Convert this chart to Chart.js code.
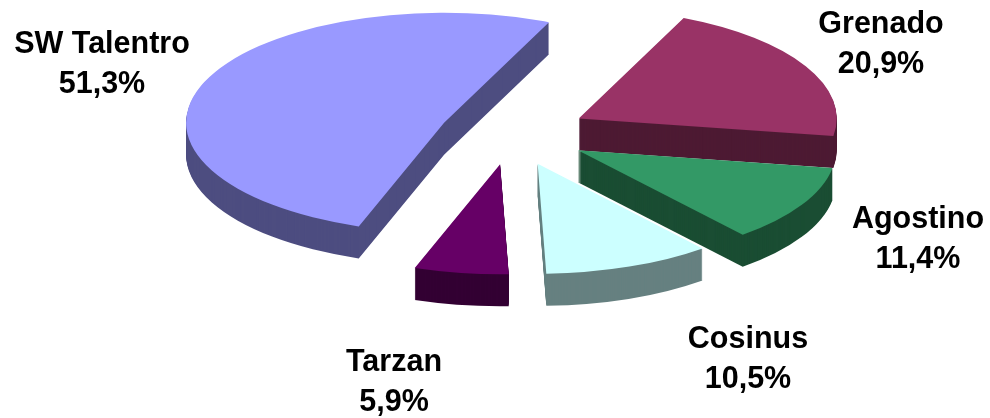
<!DOCTYPE html>
<html>
<head>
<meta charset="utf-8">
<style>
html, body { margin: 0; padding: 0; background: #fff; }
#wrap { width: 990px; height: 418px; }
</style>
<script src="https://cdn.jsdelivr.net/npm/chart.js@4"></script>
</head>
<body>
<div id="wrap"><canvas id="chart" width="990" height="418"></canvas></div>
<script>
const categories = ['Grenado', 'Agostino', 'Cosinus', 'Tarzan', 'SW Talentro'];
const shares = [20.9, 11.4, 10.5, 5.9, 51.3];
const shareLabels = ['20,9%', '11,4%', '10,5%', '5,9%', '51,3%'];

const topColors = ['#993366', '#339966', '#ccffff', '#660066', '#9999ff'];
const wallColors = ['#4d1a33', '#1a4d33', '#668080', '#330033', '#4d4d80'];
const drawOrder = [4, 0, 1, 3, 2];

// pie geometry, squashed to fake the 3D tilt
const centerX = 511, centerY = 134, tilt = 0.426, depth = 32, radius = 258;
const explode = [77, 77, 75, 72, 72];
const labelSpots = [[881, 33], [918, 228], [748, 348], [394, 371], [102, 53]];

const pie3d = {
    id: 'pie3d',
    beforeDatasetsDraw(chart) {
        const ctx = chart.ctx;
        const arcs = chart.getDatasetMeta(0).data;

        drawOrder.forEach(i => {
            const arc = arcs[i];
            const half = (arc.startAngle + arc.endAngle) / 2;
            const dx = Math.cos(half) * explode[i];
            const dy = Math.sin(half) * explode[i];

            // side walls, the wedge stacked downwards
            ctx.save();
            ctx.fillStyle = wallColors[i];
            for (let d = depth; d >= 1; d--) {
                ctx.save();
                ctx.translate(centerX, centerY + d);
                ctx.scale(1, tilt);
                ctx.beginPath();
                ctx.moveTo(dx, dy);
                ctx.arc(dx, dy, arc.outerRadius, arc.startAngle, arc.endAngle);
                ctx.closePath();
                ctx.fill();
                ctx.restore();
            }
            ctx.restore();

            // top face through the library's own arc
            ctx.save();
            ctx.translate(centerX, centerY);
            ctx.scale(1, tilt);
            ctx.translate(dx - arc.x, dy - arc.y);
            arc.draw(ctx);
            ctx.restore();
        });
        return false;
    },
    afterDraw(chart) {
        const ctx = chart.ctx;
        ctx.save();
        ctx.fillStyle = '#000';
        ctx.textAlign = 'center';
        ctx.font = 'bold 30.5px "Liberation Sans", Arial, sans-serif';
        categories.forEach((name, i) => {
            ctx.fillText(name, labelSpots[i][0], labelSpots[i][1]);
            ctx.fillText(shareLabels[i], labelSpots[i][0], labelSpots[i][1] + 40);
        });
        ctx.restore();
    }
};

new Chart(document.getElementById('chart'), {
    type: 'pie',
    data: {
        labels: categories,
        datasets: [{
            data: shares,
            backgroundColor: topColors,
            borderWidth: 0
        }]
    },
    options: {
        responsive: false,
        animation: false,
        rotation: 24,
        radius: radius,
        layout: { padding: 0 },
        plugins: {
            legend: { display: false },
            tooltip: { enabled: false }
        }
    },
    plugins: [pie3d]
});
</script>
</body>
</html>
